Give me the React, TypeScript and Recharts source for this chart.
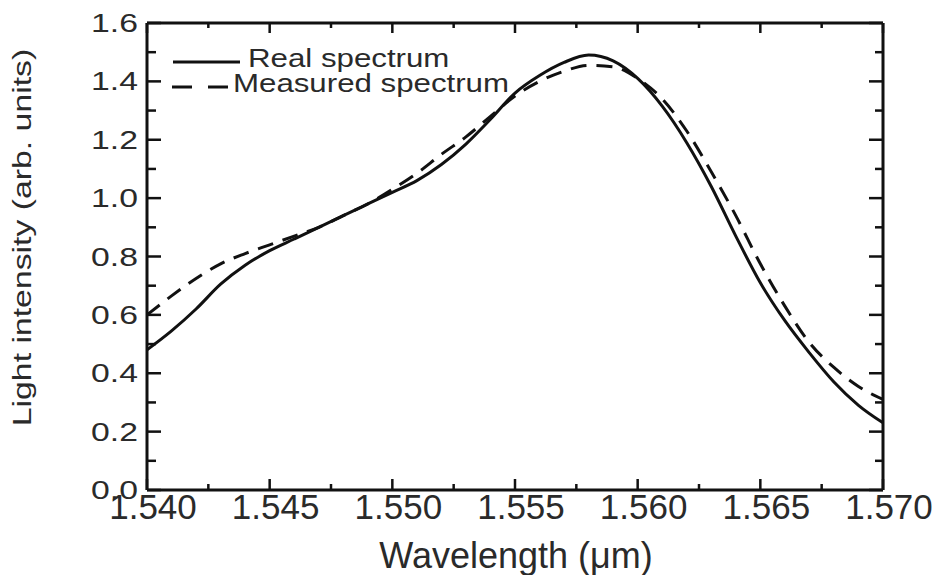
import { LineChart, Line, XAxis, YAxis, Legend } from 'recharts'

const wavelengths = [
  1.540, 1.541, 1.542, 1.543, 1.544, 1.545, 1.546, 1.547, 1.548, 1.549,
  1.550, 1.551, 1.552, 1.553, 1.554, 1.555, 1.556, 1.557, 1.558, 1.559,
  1.560, 1.561, 1.562, 1.563, 1.564, 1.565, 1.566, 1.567, 1.568, 1.569, 1.570,
]
const realSpectrum = [
  0.48, 0.545, 0.62, 0.705, 0.77, 0.82, 0.86, 0.90, 0.94, 0.98,
  1.02, 1.06, 1.115, 1.185, 1.27, 1.36, 1.42, 1.465, 1.49, 1.47,
  1.41, 1.315, 1.19, 1.04, 0.87, 0.71, 0.58, 0.47, 0.37, 0.29, 0.23,
]
const measuredSpectrum = [
  0.60, 0.665, 0.725, 0.775, 0.81, 0.84, 0.87, 0.90, 0.94, 0.98,
  1.03, 1.085, 1.15, 1.21, 1.28, 1.35, 1.40, 1.435, 1.455, 1.45,
  1.41, 1.34, 1.23, 1.09, 0.94, 0.775, 0.63, 0.505, 0.42, 0.355, 0.31,
]

const xMajor = [1.540, 1.545, 1.550, 1.555, 1.560, 1.565, 1.570]
const xMinor = [1.5425, 1.5475, 1.5525, 1.5575, 1.5625, 1.5675]
const yMajor = [0, 0.2, 0.4, 0.6, 0.8, 1.0, 1.2, 1.4, 1.6]
const yMinor = [0.1, 0.3, 0.5, 0.7, 0.9, 1.1, 1.3, 1.5]

const data = wavelengths.map((wl, i) => ({
  wl,
  real: realSpectrum[i],
  measured: measuredSpectrum[i],
}))

const FONT = '"Liberation Sans", Arial, Helvetica, sans-serif'
const INK = '#111'
const TEXT = '#2a2a2a'

const isMajor = (list: number[], v: number) => list.some(m => Math.abs(m - v) < 1e-9)

function BottomTick(props: any) {
  const { x, y, payload } = props
  const major = isMajor(xMajor, payload.value)
  return (
    <g>
      <line x1={x} x2={x} y1={y} y2={y - (major ? 11 : 6)} stroke={INK} strokeWidth={2.5} />
      {major && (
        <text x={x + 6} y={y + 29} textAnchor="middle" fontSize={35} fontFamily={FONT} fill={TEXT}>
          {payload.value.toFixed(3)}
        </text>
      )}
    </g>
  )
}

function TopTick(props: any) {
  const { x, y, payload } = props
  const major = isMajor(xMajor, payload.value)
  return <line x1={x} x2={x} y1={y} y2={y + (major ? 10 : 5)} stroke={INK} strokeWidth={2.5} />
}

function LeftTick(props: any) {
  const { x, y, payload } = props
  const major = isMajor(yMajor, payload.value)
  return (
    <g>
      <line x1={x} x2={x + (major ? 14 : 9)} y1={y} y2={y} stroke={INK} strokeWidth={2.5} />
      {major && (
        <text
          transform={`translate(${x - 9}, ${y + 9}) scale(1.35, 1)`}
          textAnchor="end"
          fontSize={25}
          fontFamily={FONT}
          fill={TEXT}
        >
          {payload.value.toFixed(1)}
        </text>
      )}
    </g>
  )
}

function RightTick(props: any) {
  const { x, y, payload } = props
  const major = isMajor(yMajor, payload.value)
  return <line x1={x} x2={x - (major ? 14 : 8)} y1={y} y2={y} stroke={INK} strokeWidth={2.5} />
}

function LegendBox({ payload }: any) {
  const rows = (payload || []).filter((e: any) => e.type !== 'none')
  return (
    <svg width={400} height={65} style={{ display: 'block' }}>
      {rows.map((entry: any) => {
        const dashed = entry.value === 'Measured spectrum'
        const cy = dashed ? 47 : 22
        return (
          <g key={entry.value}>
            <line
              x1={dashed ? 7 : 8}
              x2={dashed ? 63 : 75}
              y1={cy}
              y2={cy}
              stroke={INK}
              strokeWidth={3}
              strokeDasharray={dashed ? '20 16' : undefined}
            />
            <text
              transform={`translate(${dashed ? 68 : 83}, ${cy + 5}) scale(1.25, 1)`}
              fontSize={25}
              fontFamily={FONT}
              fill={TEXT}
            >
              {entry.value}
            </text>
          </g>
        )
      })}
    </svg>
  )
}

export default function App() {
  return (
    <div style={{ position: 'absolute', left: 0, top: 0, background: '#fff' }}>
      <LineChart width={938} height={575} data={data} margin={{ top: 22, right: 54, bottom: 0, left: 0 }}>
        <XAxis
          dataKey="wl"
          type="number"
          domain={[1.54, 1.57]}
          ticks={[...xMajor, ...xMinor]}
          interval={0}
          height={85}
          tickSize={0}
          tickMargin={0}
          tickLine={false}
          axisLine={{ stroke: INK, strokeWidth: 3 }}
          tick={<BottomTick />}
          allowDataOverflow
          label={(p: any) => {
            const vb = p.viewBox || { x: 147, y: 490, width: 736 }
            return (
              <text x={vb.x + vb.width / 2 + 1} y={vb.y + 78} textAnchor="middle" fontSize={36} fontFamily={FONT} fill={TEXT}>
                Wavelength (μm)
              </text>
            )
          }}
        />
        <XAxis
          xAxisId="top"
          orientation="top"
          type="number"
          dataKey="wl"
          domain={[1.54, 1.57]}
          ticks={[...xMajor, ...xMinor]}
          interval={0}
          height={1}
          tickSize={0}
          tickMargin={0}
          tickLine={false}
          axisLine={{ stroke: INK, strokeWidth: 3 }}
          tick={<TopTick />}
          allowDataOverflow
        />
        <YAxis
          type="number"
          domain={[0, 1.6]}
          ticks={[...yMajor, ...yMinor]}
          interval={0}
          width={147}
          tickSize={0}
          tickMargin={0}
          tickLine={false}
          axisLine={{ stroke: INK, strokeWidth: 3 }}
          tick={<LeftTick />}
          allowDataOverflow
          label={(p: any) => {
            const vb = p.viewBox || { x: 0, y: 23, height: 467 }
            const cx = 31
            const cy = vb.y + vb.height / 2 - 19
            return (
              <text
                transform={`translate(${cx}, ${cy}) rotate(-90) scale(1.3, 1)`}
                textAnchor="middle"
                fontSize={26}
                fontFamily={FONT}
                fill={TEXT}
              >
                Light intensity (arb. units)
              </text>
            )
          }}
        />
        <YAxis
          yAxisId="right"
          orientation="right"
          type="number"
          domain={[0, 1.6]}
          ticks={[...yMajor, ...yMinor]}
          interval={0}
          width={1}
          tickSize={0}
          tickMargin={0}
          tickLine={false}
          axisLine={{ stroke: INK, strokeWidth: 3 }}
          tick={<RightTick />}
          allowDataOverflow
        />
        <Legend
          layout="horizontal"
          verticalAlign="middle"
          align="center"
          content={<LegendBox />}
          wrapperStyle={{ position: 'absolute', left: 165, top: 40, width: 400, height: 65 }}
        />
        <Line
          type="monotone"
          dataKey="real"
          name="Real spectrum"
          stroke={INK}
          strokeWidth={3}
          dot={false}
          isAnimationActive={false}
        />
        <Line
          type="monotone"
          dataKey="measured"
          name="Measured spectrum"
          stroke={INK}
          strokeWidth={3}
          strokeDasharray="16 10"
          dot={false}
          isAnimationActive={false}
        />
        {/* hidden series that ties the top and right frame axes to the data */}
        <Line
          xAxisId="top"
          yAxisId="right"
          dataKey="real"
          stroke="none"
          dot={false}
          legendType="none"
          activeDot={false}
          isAnimationActive={false}
        />
      </LineChart>
    </div>
  )
}
